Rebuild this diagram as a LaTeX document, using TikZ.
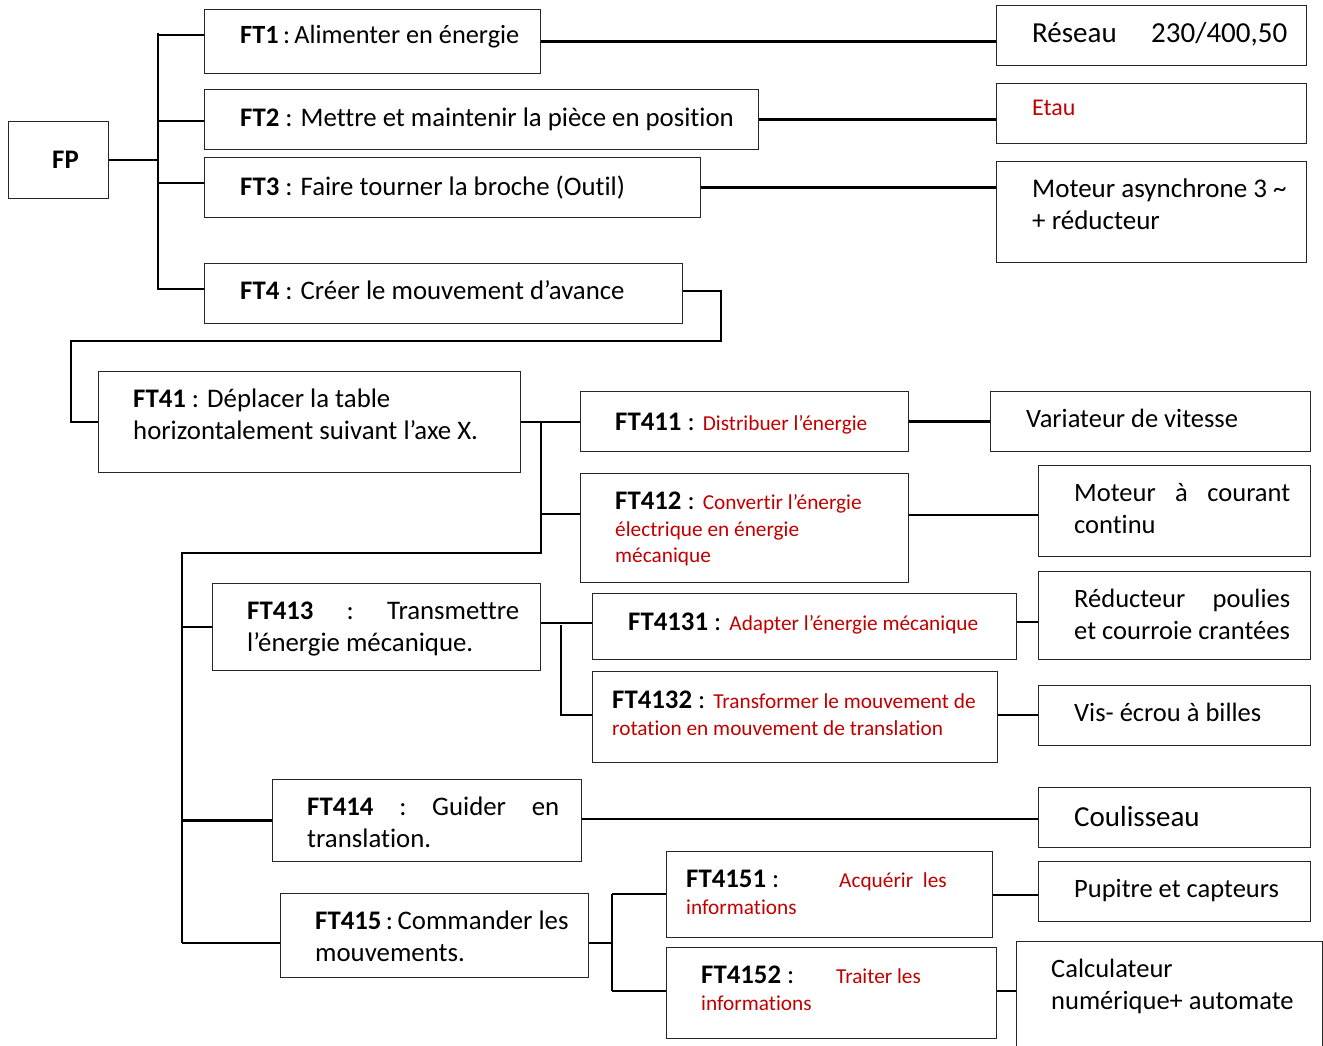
\documentclass[tikz,border=0pt]{standalone}
\usepackage{fontspec}
\setmainfont{Carlito}[Ligatures=NoCommon]
\definecolor{rd}{HTML}{C00000}
\newcommand{\fsz}[1]{\fontsize{#1}{#1}\selectfont}
\newcommand{\rtx}[1]{{\color{rd}\fsz{21.3}#1}}
\tikzset{
  box/.style={draw=black!85, line width=1.3pt, inner sep=0pt, anchor=north west},
  txt/.style={anchor=base west, inner sep=0pt, font=\fsz{26.8}},
  rtxt/.style={anchor=base west, inner sep=0pt, font=\fsz{26.5}},
  conn/.style={draw=black, line width=2.6pt},
}
\begin{document}
\begin{tikzpicture}[x=1pt,y=-1pt]
\useasboundingbox (0,0) rectangle (1323,1046);
% ---------- boxes ----------
\node[box, minimum width=100, minimum height=77] (fp) at (8,121) {};
\node[box, minimum width=336, minimum height=64] (ft1) at (204,9) {};
\node[box, minimum width=554, minimum height=60] (ft2) at (204,89) {};
\node[box, minimum width=496, minimum height=60] (ft3) at (204,157) {};
\node[box, minimum width=478, minimum height=60] (ft4) at (204,263) {};
\node[box, minimum width=310, minimum height=60] (res) at (996,5) {};
\node[box, minimum width=310, minimum height=60] (etau) at (996,83) {};
\node[box, minimum width=310, minimum height=101] (mas) at (996,161) {};
\node[box, minimum width=422, minimum height=101] (ft41) at (98,371) {};
\node[box, minimum width=328, minimum height=60] (ft411) at (580,391) {};
\node[box, minimum width=328, minimum height=109] (ft412) at (580,473) {};
\node[box, minimum width=320, minimum height=60] (var) at (990,391) {};
\node[box, minimum width=272, minimum height=91] (mcc) at (1038,465) {};
\node[box, minimum width=328, minimum height=87] (ft413) at (212,583) {};
\node[box, minimum width=424, minimum height=66] (ft4131) at (592,593) {};
\node[box, minimum width=405, minimum height=91] (ft4132) at (592,671) {};
\node[box, minimum width=272, minimum height=88] (red) at (1038,571) {};
\node[box, minimum width=272, minimum height=60] (vis) at (1038,685) {};
\node[box, minimum width=309, minimum height=82] (ft414) at (272,779) {};
\node[box, minimum width=272, minimum height=60] (coul) at (1038,787) {};
\node[box, minimum width=308, minimum height=84] (ft415) at (280,893) {};
\node[box, minimum width=326, minimum height=86] (ft4151) at (666,851) {};
\node[box, minimum width=330, minimum height=91] (ft4152) at (666,947) {};
\node[box, minimum width=272, minimum height=60] (pup) at (1038,861) {};
\node[box, minimum width=306, minimum height=110] (calc) at (1016,941) {};
% ---------- texts ----------
\node[txt] (tfp) at (52,168) {\textbf{FP}};
\node[txt, font=\fsz{26.3}] (tft1) at (240,44) {\textbf{FT1}\,:\,Alimenter en énergie};
\node[txt] (tft2) at (240,127) {\textbf{FT2} : Mettre et maintenir la pièce en position};
\node[txt] (tft3) at (240,196) {\textbf{FT3} : Faire tourner la broche (Outil)};
\node[txt] (tft4) at (240,299) {\textbf{FT4} : Créer le mouvement d’avance};
\node[txt, font=\fsz{29}] (tres) at (1032,43) {\hbox to 255pt{Réseau\hfill 230/400,50}};
\node[txt, font=\fsz{24}, text=rd] (tetau) at (1032,116) {Etau};
\node[txt, font=\fsz{27}] (tmas1) at (1032,197) {Moteur asynchrone 3 \char"007E};
\node[txt, font=\fsz{27}] (tmas2) at (1032,229) {+ réducteur};
\node[txt] (tft41a) at (133,407) {\textbf{FT41} : Déplacer la table};
\node[txt] (tft41b) at (133,439) {horizontalement suivant l’axe X.};
\node[txt] (tft411) at (615,430) {\textbf{FT411} : \rtx{Distribuer l’énergie}};
\node[rtxt] (tvar) at (1026,427) {Variateur de vitesse};
\node[txt] (tft412a) at (615,509) {\textbf{FT412} : \rtx{Convertir l’énergie}};
\node[txt] (tft412b) at (615,536) {\rtx{électrique en énergie}};
\node[txt] (tft412c) at (615,562) {\rtx{mécanique}};
\node[rtxt] (tmcc1) at (1074,501) {\hbox to 216pt{Moteur\hfill à\hfill courant}};
\node[rtxt] (tmcc2) at (1074,533) {continu};
\node[txt] (tft413a) at (247,619) {\hbox to 272pt{\textbf{FT413}\hfill:\hfill Transmettre}};
\node[txt] (tft413b) at (247,651) {l’énergie mécanique.};
\node[txt] (tft4131) at (628,630) {\textbf{FT4131} : \rtx{Adapter l’énergie mécanique}};
\node[rtxt] (tred1) at (1074,607) {\hbox to 216pt{Réducteur\hfill poulies}};
\node[rtxt] (tred2) at (1074,639) {et courroie crantées};
\node[txt] (tft4132a) at (612,708) {\textbf{FT4132} : \rtx{Transformer le mouvement de}};
\node[txt] (tft4132b) at (612,735) {\rtx{rotation en mouvement de translation}};
\node[rtxt] (tvis) at (1074,721) {Vis- écrou à billes};
\node[txt] (tft414a) at (307,815) {\hbox to 252pt{\textbf{FT414}\hfill:\hfill Guider\hfill en}};
\node[txt] (tft414b) at (307,847) {translation.};
\node[txt, font=\fsz{29}] (tcoul) at (1074,826) {Coulisseau};
\node[txt] (tft415a) at (315,929) {\textbf{FT415}\,:\,Commander les};
\node[txt] (tft415b) at (315,961) {mouvements.};
\node[txt] (tft4151a) at (686,887) {\textbf{FT4151} :};
\node[txt] (tft4151b) at (839,887) {\rtx{Acquérir\ \ les}};
\node[txt] (tft4151c) at (686,914) {\rtx{informations}};
\node[rtxt] (tpup) at (1074,897) {Pupitre et capteurs};
\node[txt] (tft4152a) at (701,983) {\textbf{FT4152} :};
\node[txt] (tft4152b) at (836,983) {\rtx{Traiter les}};
\node[txt] (tft4152c) at (701,1010) {\rtx{informations}};
\node[rtxt] (tcalc1) at (1051,977) {Calculateur};
\node[rtxt] (tcalc2) at (1051,1009) {numérique+ automate};
% ---------- junction coordinates ----------
\coordinate (sT) at (158,33);
\coordinate (sB) at (158,290);
\coordinate (b1) at (158,35);
\coordinate (b2) at (158,121);
\coordinate (b3) at (158,183);
\coordinate (b4) at (158,289);
\coordinate (k1) at (721,341);
\coordinate (k2) at (71,341);
\coordinate (j1) at (541,421);
\coordinate (j2) at (541,553);
\coordinate (j3) at (182,553);
\coordinate (j4) at (182,943);
\coordinate (jb2) at (541,514);
\coordinate (m1) at (561,623);
\coordinate (m2) at (561,715);
\coordinate (n1) at (612,894);
\coordinate (n2) at (612,991);
\coordinate (n0) at (612,943);
% ---------- connectors ----------
\draw[conn] (fp.east) -- (fp.east -| sT);
\draw[conn] (sT) -- (sB);
\draw[conn] (b1) -- (b1 -| ft1.west);
\draw[conn] (b2) -- (b2 -| ft2.west);
\draw[conn] (b3) -- (b3 -| ft3.west);
\draw[conn] (b4) -- (b4 -| ft4.west);
\draw[conn] (ft1.east) -- (ft1.east -| res.west);
\draw[conn] (ft2.east) -- (ft2.east -| etau.west);
\draw[conn] (ft3.east) -- (ft3.east -| mas.west);
\draw[conn] (ft4.east |- 0,291) -| (k1) -- (k2) |- (ft41.west);
\draw[conn] (ft41.east) -- (ft41.east -| ft411.west);
\draw[conn] (j1) -- (j2) -- (j3) -- (j4);
\draw[conn] (jb2) -- (jb2 -| ft412.west);
\draw[conn] (ft411.east) -- (ft411.east -| var.west);
\draw[conn] (ft412.east |- 0,515) -- (mcc.west |- 0,515);
\draw[conn] (ft413.west -| j3) -- (ft413.west);
\draw[conn] (ft414.west -| j3) -- (ft414.west);
\draw[conn] (j4) -- (j4 -| ft415.west);
\draw[conn] (ft413.east |- m1) -- (m1 -| ft4131.west);
\draw[conn] (561,625) -- (m2) -- (m2 -| ft4132.west);
\draw[conn] (ft4131.east |- 0,622) -- (red.west |- 0,622);
\draw[conn] (ft4132.east |- m2) -- (m2 -| vis.west);
\draw[conn] (ft414.east |- 0,819) -- (coul.west |- 0,819);
\draw[conn] (ft415.east |- n0) -- (n0);
\draw[conn] (n1) -- (n2);
\draw[conn] (n1) -- (n1 -| ft4151.west);
\draw[conn] (n2) -- (n2 -| ft4152.west);
\draw[conn] (ft4151.east |- 0,895) -- (pup.west |- 0,895);
\draw[conn] (ft4152.east |- n2) -- (n2 -| calc.west);
\end{tikzpicture}
\end{document}
